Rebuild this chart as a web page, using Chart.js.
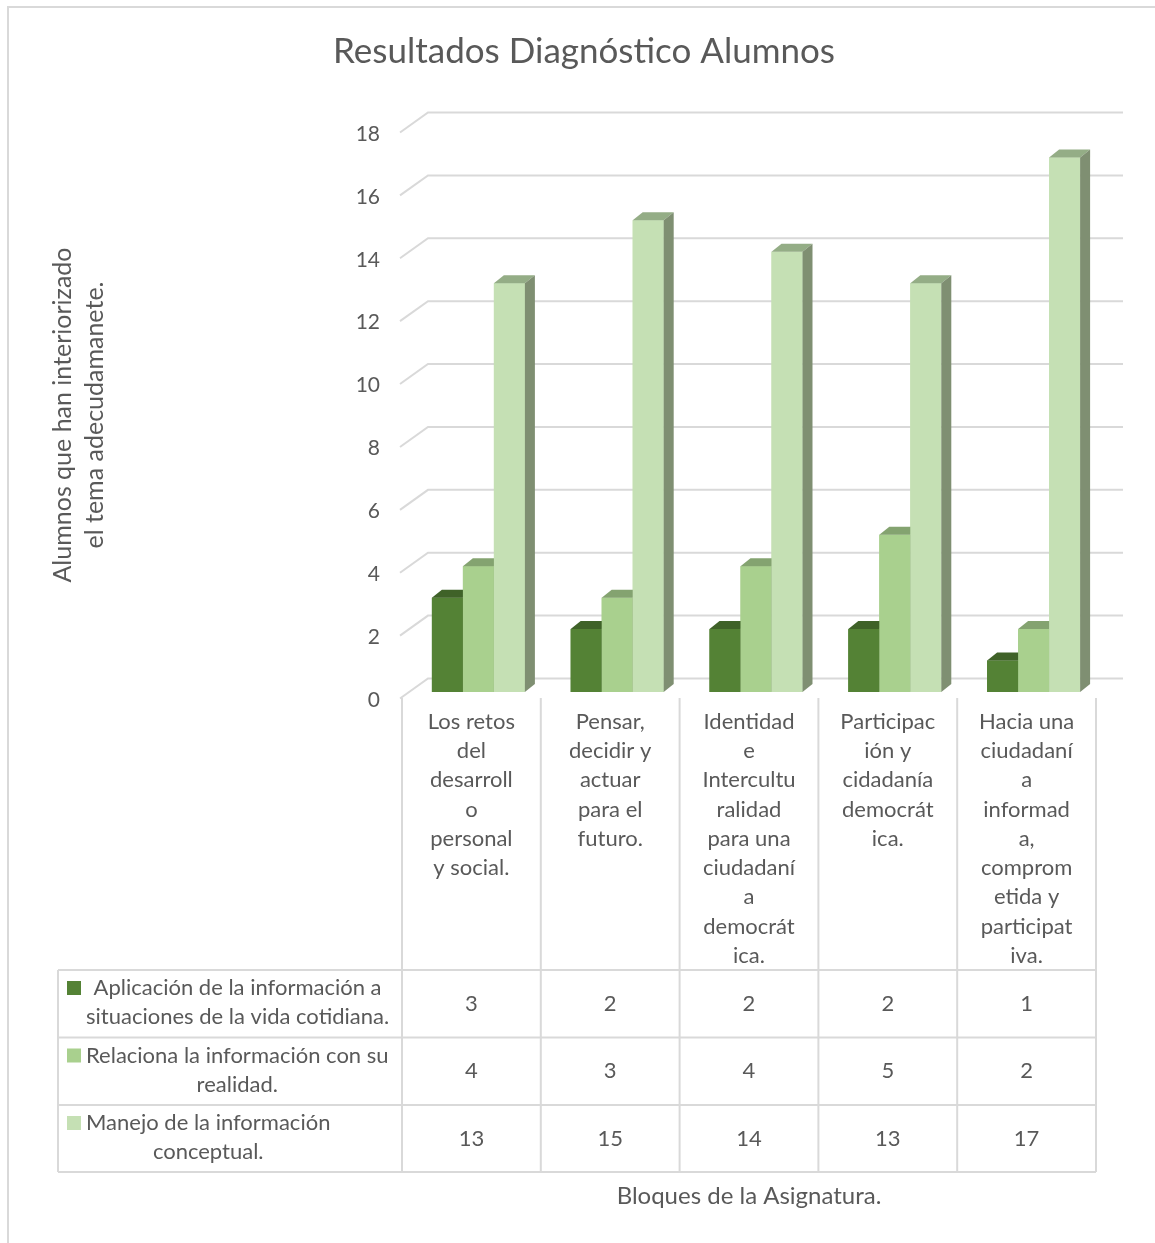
<!DOCTYPE html>
<html>
<head>
<meta charset="utf-8">
<script src="https://cdn.jsdelivr.net/npm/chart.js@4.4.1/dist/chart.umd.min.js"></script>
<style>
  html, body { margin: 0; padding: 0; background: #fff; }
  #chart { display: block; }
</style>
</head>
<body>
<canvas id="chart" width="1155" height="1243"></canvas>
<script>
// data
const categories = [
    ['Los retos', 'del', 'desarroll', 'o', 'personal', 'y social.'],
    ['Pensar,', 'decidir y', 'actuar', 'para el', 'futuro.'],
    ['Identidad', 'e', 'Intercultu', 'ralidad', 'para una', 'ciudadaní', 'a', 'democrát', 'ica.'],
    ['Participac', 'ión y', 'cidadanía', 'democrát', 'ica.'],
    ['Hacia una', 'ciudadaní', 'a', 'informad', 'a,', 'comprom', 'etida y', 'participat', 'iva.']
];
const seriesNames = [
    ['Aplicación de la información a', 'situaciones de la vida cotidiana.'],
    ['Relaciona la información con su', 'realidad.'],
    ['Manejo de la información', 'conceptual.']
];
const aplicacion = [3, 2, 2, 2, 1];
const relaciona = [4, 3, 4, 5, 2];
const manejo = [13, 15, 14, 13, 17];
const yMax = 18;
const yStep = 2;

const titleText = 'Resultados Diagnóstico Alumnos';
const yTitle = ['Alumnos que han interiorizado', 'el tema adecudamanete.'];
const xTitle = 'Bloques de la Asignatura.';

const seriesValues = [aplicacion, relaciona, manejo];
const frontColors = ['#548235', '#a9d08e', '#c5e0b4'];
const topColors = ['#3f6228', '#84a370', '#94ad86'];
const sideColors = ['#3a5a25', '#7d9a69', '#7f8f72'];

const FONT = 'Lato, "Open Sans", sans-serif';
const TEXT = '#595959';
const LINE = '#d9d9d9';
const DX = 10, DY = 8;      // bar depth
const SHIFT = 7;            // bars sit a bit right of the table columns

const threeD = {
    id: 'threeD',
    beforeDraw(chart) {
        const ctx = chart.ctx;
        const { left, right } = chart.chartArea;
        const y = chart.scales.y;
        ctx.save();
        ctx.fillStyle = '#fff';
        ctx.fillRect(0, 0, chart.width, chart.height);
        ctx.strokeStyle = LINE;
        ctx.lineWidth = 2;
        ctx.beginPath();
        ctx.moveTo(8, chart.height);
        ctx.lineTo(8, 7);
        ctx.lineTo(chart.width, 7);
        ctx.stroke();

        // back wall grid with perspective
        for (let v = 0; v <= yMax; v += yStep) {
            const p = y.getPixelForValue(v);
            ctx.beginPath();
            ctx.moveTo(left - 9, p + 6.5);
            ctx.lineTo(left + 19, p - 13.5);
            ctx.lineTo(right + 20, p - 13.5);
            ctx.stroke();
        }

        // title
        ctx.fillStyle = TEXT;
        ctx.textAlign = 'center';
        ctx.textBaseline = 'middle';
        ctx.font = '35px ' + FONT;
        ctx.fillText(titleText, 584, 52);

        // y title
        ctx.font = '25px ' + FONT;
        ctx.save();
        ctx.translate(63, 415);
        ctx.rotate(-Math.PI / 2);
        ctx.fillText(yTitle[0], 0, 0);
        ctx.fillText(yTitle[1], 0, 32);
        ctx.restore();

        // x title
        ctx.font = '24px ' + FONT;
        ctx.fillText(xTitle, 749, 1196);
        ctx.restore();
    },
    afterDatasetsDraw(chart) {
        const ctx = chart.ctx;
        ctx.save();
        // series drawn left to right so each front face hides the previous side
        chart.data.datasets.forEach((ds, i) => {
            chart.getDatasetMeta(i).data.forEach(bar => {
                const p = bar.getProps(['x', 'y', 'base', 'width'], true);
                const x0 = p.x - p.width / 2, x1 = p.x + p.width / 2;
                ctx.fillStyle = frontColors[i];
                ctx.fillRect(x0, p.y, p.width, p.base - p.y);
                ctx.fillStyle = topColors[i];
                ctx.beginPath();
                ctx.moveTo(x0, p.y);
                ctx.lineTo(x0 + DX, p.y - DY);
                ctx.lineTo(x1 + DX, p.y - DY);
                ctx.lineTo(x1, p.y);
                ctx.closePath();
                ctx.fill();
                ctx.fillStyle = sideColors[i];
                ctx.beginPath();
                ctx.moveTo(x1, p.y);
                ctx.lineTo(x1 + DX, p.y - DY);
                ctx.lineTo(x1 + DX, p.base - DY);
                ctx.lineTo(x1, p.base);
                ctx.closePath();
                ctx.fill();
            });
        });
        ctx.restore();
    },
    afterDraw(chart) {
        const ctx = chart.ctx;
        const x = chart.scales.x;
        const colW = x.width / categories.length;
        const tableLeft = 58;
        const rowTops = [970, 1037.5, 1105, 1172];
        const bounds = [];
        for (let i = 0; i <= categories.length; i++) {
            bounds.push(x.left - SHIFT + colW * i);
        }
        ctx.save();
        ctx.strokeStyle = LINE;
        ctx.lineWidth = 2;
        ctx.beginPath();
        bounds.forEach(b => {
            ctx.moveTo(b, 698);
            ctx.lineTo(b, rowTops[3]);
        });
        ctx.moveTo(tableLeft, rowTops[0]);
        ctx.lineTo(tableLeft, rowTops[3]);
        rowTops.forEach(t => {
            ctx.moveTo(tableLeft, t);
            ctx.lineTo(bounds[bounds.length - 1], t);
        });
        ctx.stroke();

        ctx.fillStyle = TEXT;
        ctx.textBaseline = 'middle';
        ctx.font = '22px ' + FONT;
        seriesNames.forEach((lines, r) => {
            const top = rowTops[r];
            const blockW = Math.max(...lines.map(l => ctx.measureText(l).width));
            const cx = 86 + blockW / 2;
            ctx.fillStyle = frontColors[r];
            ctx.fillRect(67, top + 18 - 7, 14, 14);
            ctx.fillStyle = TEXT;
            ctx.textAlign = 'center';
            lines.forEach((l, k) => ctx.fillText(l, cx, top + 18 + 29 * k));
            seriesValues[r].forEach((v, c) => {
                ctx.fillText(String(v), (bounds[c] + bounds[c + 1]) / 2, (top + rowTops[r + 1]) / 2);
            });
        });
        ctx.restore();
    }
};

new Chart(document.getElementById('chart'), {
    type: 'bar',
    data: {
        labels: categories,
        datasets: seriesNames.map((n, i) => ({
            label: n.join(' '),
            data: seriesValues[i],
            backgroundColor: frontColors[i],
            borderWidth: 0,
            categoryPercentage: 0.67,
            barPercentage: 1.0
        }))
    },
    options: {
        responsive: false,
        devicePixelRatio: 1,
        animation: false,
        layout: { padding: { left: 0, top: 126, right: 52, bottom: 0 } },
        plugins: {
            legend: { display: false },
            title: { display: false },
            tooltip: { enabled: false }
        },
        scales: {
            y: {
                min: 0,
                max: yMax,
                afterFit(scale) { scale.width = 409; },
                grid: { display: false, drawTicks: false },
                border: { display: false },
                ticks: {
                    stepSize: yStep,
                    color: TEXT,
                    font: { family: FONT, size: 21 },
                    padding: 29,
                    labelOffset: 8
                }
            },
            x: {
                afterFit(scale) { scale.height = 551; },
                grid: { display: false, drawTicks: false },
                border: { display: false },
                ticks: {
                    color: TEXT,
                    font: { family: FONT, size: 22, lineHeight: 1.33 },
                    padding: 15,
                    labelOffset: -SHIFT,
                    maxRotation: 0,
                    autoSkip: false
                }
            }
        }
    },
    plugins: [threeD]
});
</script>
</body>
</html>
